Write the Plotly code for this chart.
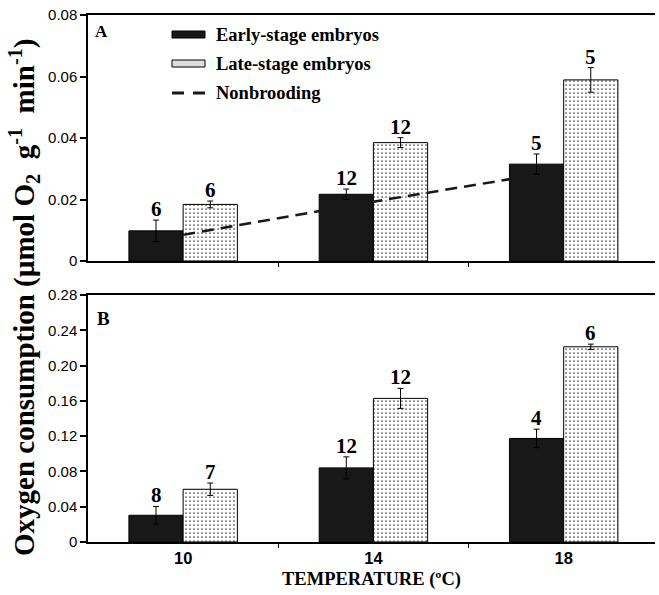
import plotly.graph_objects as go

# ---------------- data ----------------
temps = ["10", "14", "18"]
# Panel A
a_early = [0.0098, 0.0217, 0.0315]
a_early_err = [0.0035, 0.0017, 0.0033]
a_early_n = [6, 12, 5]
a_late = [0.0184, 0.0385, 0.0589]
a_late_err = [0.0011, 0.0016, 0.0040]
a_late_n = [6, 12, 5]
a_nonbrood = [0.0085, 0.0193, 0.0295]
# Panel B
b_early = [0.0303, 0.0840, 0.1174]
b_early_err = [0.0100, 0.0125, 0.0105]
b_early_n = [8, 12, 4]
b_late = [0.0598, 0.1628, 0.2213]
b_late_err = [0.0070, 0.0113, 0.0030]
b_late_n = [7, 12, 6]

a_ticks = [0, 0.02, 0.04, 0.06, 0.08]
a_ticktext = ["0", "0.02", "0.04", "0.06", "0.08"]
b_ticks = [0, 0.04, 0.08, 0.12, 0.16, 0.20, 0.24, 0.28]
b_ticktext = ["0", "0.04", "0.08", "0.12", "0.16", "0.20", "0.24", "0.28"]

xpos = list(range(len(temps)))
BLACK = "#181818"
SERIF = "Liberation Serif"
SANS = "Liberation Sans"
BARGAP = 0.43
half = (1 - BARGAP) / 4  # center offset of each bar in a group

fig = go.Figure()

def add_bars(y, err, xa, ya, dotted):
    marker = dict(color=BLACK if not dotted else "white", line=dict(color="black", width=1))
    if dotted:
        marker["pattern"] = dict(shape=".", fgcolor="#444444", bgcolor="white", size=4, solidity=0.15)
    fig.add_trace(go.Bar(
        x=xpos, y=y, xaxis=xa, yaxis=ya, marker=marker,
        offsetgroup="late" if dotted else "early",
        error_y=dict(type="data", array=err, color="black", thickness=1, width=3),
        showlegend=False,
    ))

add_bars(a_early, a_early_err, "x", "y", False)
add_bars(a_late, a_late_err, "x", "y", True)
add_bars(b_early, b_early_err, "x2", "y2", False)
add_bars(b_late, b_late_err, "x2", "y2", True)

fig.add_trace(go.Scatter(
    x=xpos, y=a_nonbrood, xaxis="x", yaxis="y", mode="lines",
    line=dict(color=BLACK, width=2.5, dash="12px,7px"), showlegend=False,
))

annotations = []
def add_n(vals, errs, ns, xr, yr, off):
    for i, (v, e, n) in enumerate(zip(vals, errs, ns)):
        annotations.append(dict(
            x=i + off, y=v + e, xref=xr, yref=yr, text=str(n), showarrow=False,
            yanchor="bottom", xanchor="center", yshift=-2, borderpad=0,
            font=dict(family=SERIF, size=21, color="black", weight="bold"),
        ))

add_n(a_early, a_early_err, a_early_n, "x", "y", -half)
add_n(a_late, a_late_err, a_late_n, "x", "y", half)
add_n(b_early, b_early_err, b_early_n, "x2", "y2", -half)
add_n(b_late, b_late_err, b_late_n, "x2", "y2", half)

# pixel -> paper helpers (plot area: x 88..655, y 15..542)
W, H = 659, 595
L, R, T, B = 88, 4, 15, 53
PW, PH = W - L - R, H - T - B
def px(x):
    return (x - L) / PW
def py(y):
    return (H - B - y) / PH

def paper_text(x, y, text, size, xanchor="center", angle=0):
    annotations.append(dict(x=px(x), y=py(y), xref="paper", yref="paper", text=text, showarrow=False,
                            xanchor=xanchor, yanchor="middle", textangle=angle,
                            font=dict(family=SERIF, size=size, color="black", weight="bold")))

# panel letters
paper_text(101, 31, "A", 17)
paper_text(103, 318, "B", 19)

# legend text
leg_labels = ["Early-stage embryos", "Late-stage embryos", "Nonbrooding"]
leg_y = [35, 64, 93]
for lab, yy in zip(leg_labels, leg_y):
    paper_text(214, yy, lab, 18.5, xanchor="left")

# axis titles
paper_text(24, 298, "Oxygen consumption (µmol O<sub>2</sub>  g<sup>-1</sup>  min<sup>-1</sup>)", 29, angle=-90)
paper_text(371, 579, "TEMPERATURE (ºC)", 18.5)

shapes = [
    dict(type="rect", xref="paper", yref="paper", x0=px(172), x1=px(205), y0=py(38), y1=py(31),
         fillcolor=BLACK, line=dict(color="black", width=1)),
    dict(type="rect", xref="paper", yref="paper", x0=px(172), x1=px(205), y0=py(67), y1=py(60),
         fillcolor="#dedede", line=dict(color="black", width=1)),
    dict(type="line", xref="paper", yref="paper", x0=px(172), x1=px(205), y0=py(93), y1=py(93),
         line=dict(color=BLACK, width=3, dash="12px,9px")),
]

split_a = py(261)
split_b = py(295)

xcommon = dict(range=[-0.5, 2.48], showgrid=False, zeroline=False, showline=True, linecolor="black",
               linewidth=1.5, mirror=True, tickvals=xpos, ticktext=temps, ticks="outside", ticklen=0,
               automargin=False,
               minor=dict(tickmode="array", tickvals=[0.5, 1.5], ticks="outside", ticklen=4,
                          tickwidth=1.2, tickcolor="black"),
               tickfont=dict(family=SANS, size=16.5, color="black", weight="bold"))
ycommon = dict(showgrid=False, zeroline=False, showline=True, linecolor="black", linewidth=1.5,
               ticks="outside", ticklen=6, tickwidth=1.5, tickcolor="black", automargin=False,
               tickfont=dict(family=SANS, size=15, color="black"))

fig.update_layout(
    template="none",
    width=W, height=H, margin=dict(l=L, r=R, t=T, b=B, pad=0), autosize=False,
    paper_bgcolor="white", plot_bgcolor="white",
    barmode="group", bargap=BARGAP, bargroupgap=0,
    xaxis=dict(xcommon, anchor="y", showticklabels=False),
    yaxis=dict(ycommon, domain=[split_a, 1], range=[0, 0.08], tickvals=a_ticks, ticktext=a_ticktext, anchor="x"),
    xaxis2=dict(xcommon, anchor="y2"),
    yaxis2=dict(ycommon, domain=[0, split_b], range=[0, 0.28], tickvals=b_ticks, ticktext=b_ticktext, anchor="x2"),
    annotations=annotations, shapes=shapes, showlegend=False,
)

fig.write_html("out.html", config={"displayModeBar": False},
               post_script="document.body.style.margin='0';document.body.style.overflow='hidden';")
